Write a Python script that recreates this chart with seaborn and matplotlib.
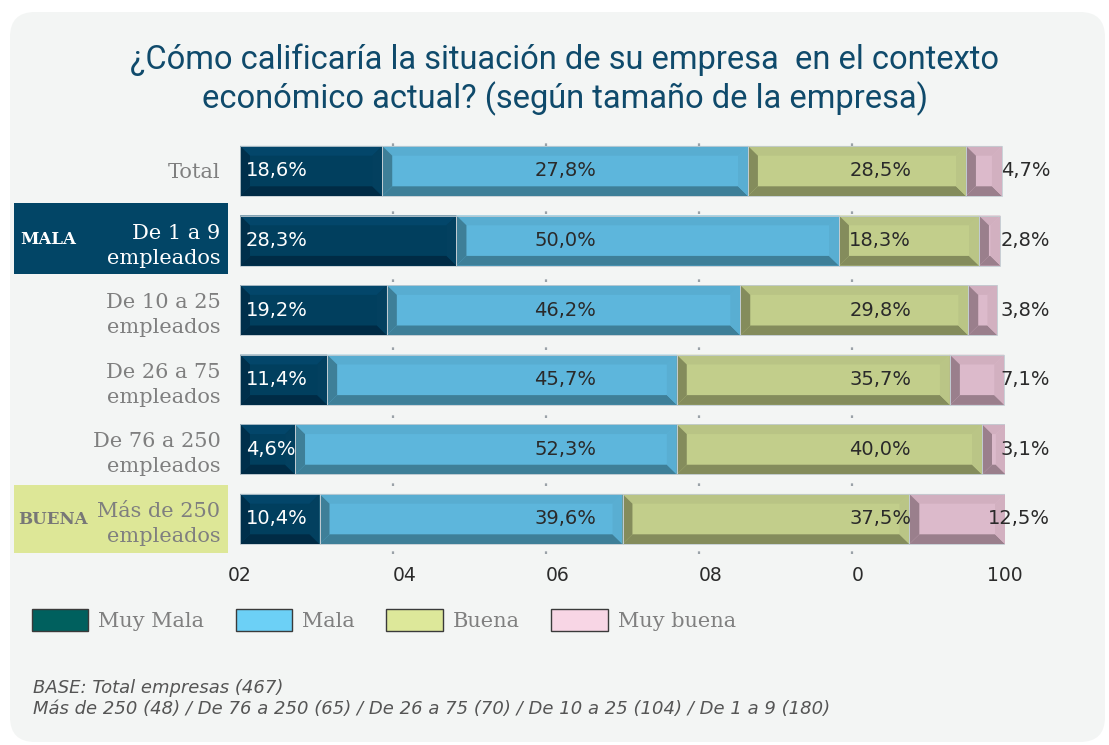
import pandas as pd
import seaborn as sns
import matplotlib.pyplot as plt
from matplotlib.patches import Polygon, Rectangle, FancyBboxPatch, Patch

# datos (longitud de cada tramo, en %)
categorias = ['Total', 'De 1 a 9\nempleados', 'De 10 a 25\nempleados', 'De 26 a 75\nempleados',
              'De 76 a 250\nempleados', 'Más de 250\nempleados']
series = ['Muy Mala', 'Mala', 'Buena', 'Muy buena']
muy_mala = [18.6, 28.3, 19.2, 11.4, 7.2, 10.4]
mala = [47.8, 50.0, 46.2, 45.7, 49.9, 39.6]
buena = [28.5, 18.3, 29.8, 35.7, 39.9, 37.5]
muy_buena = [4.7, 2.8, 3.8, 7.1, 3.1, 12.5]

# etiquetas tal como aparecen en el original
etq_muy_mala = ['18,6%', '28,3%', '19,2%', '11,4%', '4,6%', '10,4%']
etq_mala = ['27,8%', '50,0%', '46,2%', '45,7%', '52,3%', '39,6%']
etq_buena = ['28,5%', '18,3%', '29,8%', '35,7%', '40,0%', '37,5%']
etq_muy_buena = ['4,7%', '2,8%', '3,8%', '7,1%', '3,1%', '12,5%']

ticks = [0, 20, 40, 60, 80, 100]
tick_labels = ['02', '04', '06', '08', '0', '100']

W, H = 1109, 745

df = pd.DataFrame({'categoria': categorias, 'Muy Mala': muy_mala, 'Mala': mala,
                   'Buena': buena, 'Muy buena': muy_buena})
cum = df[series].cumsum(axis=1)
start = cum.shift(1, axis=1).fillna(0)

# colores: cara, arriba, abajo, izquierda, derecha
bisel = {
    'Muy Mala': ['#013f5e', '#03466a', '#002b45', '#002f4b', '#03405f'],
    'Mala': ['#5db6dc', '#58add1', '#3e7f98', '#3e7f98', '#59aed2'],
    'Buena': ['#c2ce8b', '#b9c485', '#848c5c', '#848c5c', '#bac586'],
    'Muy buena': ['#dcbacb', '#d1afbf', '#9a7f8c', '#9a7f8c', '#d2b0c0'],
}
leyenda_col = {'Muy Mala': '#00605e', 'Mala': '#6cd0f6', 'Buena': '#dde89a', 'Muy buena': '#f8d6e5'}

sns.set_style('white')
plt.rcParams['font.family'] = ['DejaVu Sans']

fig = plt.figure(figsize=(W / 100, H / 100), dpi=100, facecolor='white')
fig.patches.append(FancyBboxPatch((0.10, 0.03), 10.95, 7.30, boxstyle='round,pad=0,rounding_size=0.25',
                                  transform=fig.dpi_scale_trans, facecolor='#f3f5f4', edgecolor='none',
                                  zorder=-10))
# recuadros resaltados
fig.patches.append(Rectangle((14 / W, 1 - 274 / H), 214 / W, 71 / H, transform=fig.transFigure,
                             facecolor='#024566', edgecolor='none', zorder=-5))
fig.patches.append(Rectangle((14 / W, 1 - 553 / H), 214 / W, 68 / H, transform=fig.transFigure,
                             facecolor='#dde797', edgecolor='none', zorder=-5))

ax = fig.add_axes([240 / W, 1 - 553.8 / H, 765 / W, 417.6 / H])
ax.patch.set_alpha(0)

# barras apiladas: de la acumulada mayor a la menor
for s in series[::-1]:
    sns.barplot(x=cum[s], y=df['categoria'], orient='h', color=bisel[s][0], width=0.72,
                saturation=1, edgecolor='none', linewidth=0, ax=ax, zorder=2)

dx, dy = 1.3, 0.14
containers = ax.containers[::-1]
for k, s in enumerate(series):
    cara, arriba, abajo, izq, der = bisel[s]
    for i, p in enumerate(containers[k]):
        x0, x1 = start[s][i], cum[s][i]
        yt = p.get_y()
        yb = yt + p.get_height()
        polys = [
            ([(x0, yt), (x1, yt), (x1 - dx, yt + dy), (x0 + dx, yt + dy)], arriba),
            ([(x0, yb), (x1, yb), (x1 - dx, yb - dy), (x0 + dx, yb - dy)], abajo),
            ([(x0, yt), (x0 + dx, yt + dy), (x0 + dx, yb - dy), (x0, yb)], izq),
            ([(x1, yt), (x1 - dx, yt + dy), (x1 - dx, yb - dy), (x1, yb)], der),
        ]
        for pts, c in polys:
            ax.add_patch(Polygon(pts, closed=True, facecolor=c, edgecolor='none', zorder=3))
        ax.add_patch(Rectangle((x0, yt), x1 - x0, yb - yt, facecolor='none',
                               edgecolor='#c3cdd3', linewidth=0.6, zorder=4))

# etiquetas de datos
for i in range(len(categorias)):
    ax.text(0.8, i, etq_muy_mala[i], ha='left', va='center', color='white', fontsize=14, zorder=5)
    ax.text(42.5, i, etq_mala[i], ha='center', va='center', color='#2a2a2a', fontsize=14, zorder=5)
    ax.text(83.7, i, etq_buena[i], ha='center', va='center', color='#2a2a2a', fontsize=14, zorder=5)
    ax.text(105.9, i, etq_muy_buena[i], ha='right', va='center', color='#2a2a2a', fontsize=14,
            zorder=5, clip_on=False)

# líneas de guía punteadas
for t in ticks[1:-1]:
    ax.axvline(t, color='#9aa2a8', linestyle=(0, (1.2, 9)), linewidth=1.6, zorder=1)

ax.set_xlim(0, 100)
ax.set_ylim(5.5, -0.5)
ax.set_xticks(ticks)
ax.set_xticklabels(tick_labels, fontsize=13.5, color='#2b2b2b')
for lab, t in zip(ax.get_xticklabels(), ticks):
    lab.set_ha('center' if t in (0, 100) else 'left')
ax.tick_params(axis='x', length=0, pad=9)
ax.set_yticks(range(len(categorias)))
ax.set_yticklabels(categorias, fontsize=15, color='#7f7f7f', family='DejaVu Serif', linespacing=1.4)
ax.tick_params(axis='y', length=0, pad=14)
ax.get_yticklabels()[1].set_color('white')
ax.set_xlabel('')
ax.set_ylabel('')
for sp in ax.spines.values():
    sp.set_visible(False)

fig.text(20 / W, 1 - 240 / H, 'MALA', ha='left', va='center', color='white', fontsize=12,
         family='DejaVu Serif', weight='bold')
fig.text(18 / W, 1 - 520 / H, 'BUENA', ha='left', va='center', color='#777777', fontsize=12,
         family='DejaVu Serif', weight='bold')

fig.text(565 / W, 1 - 80 / H, '¿Cómo calificaría la situación de su empresa  en el contexto\n'
         'económico actual? (según tamaño de la empresa)', ha='center', va='center',
         color='#0f4a6b', fontsize=23.5, family='Roboto', linespacing=1.2)

handles = [Patch(facecolor=leyenda_col[s], edgecolor='#3a3a3a', linewidth=1) for s in series]
fig.legend(handles, series, loc='center left', bbox_to_anchor=(13 / W, 1 - 620 / H), ncol=4,
           frameon=False, handlelength=2.7, handleheight=1.2, handletextpad=0.5, columnspacing=1.5,
           prop={'family': 'DejaVu Serif', 'size': 15}, labelcolor='#808080')

fig.text(33 / W, 1 - 688 / H, 'BASE: Total empresas (467)', ha='left', va='center',
         color='#555555', fontsize=13, style='italic')
fig.text(33 / W, 1 - 709 / H, 'Más de 250 (48) / De 76 a 250 (65) / De 26 a 75 (70) / '
         'De 10 a 25 (104) / De 1 a 9 (180)', ha='left', va='center',
         color='#555555', fontsize=13, style='italic')

fig.savefig('out.png', dpi=100, facecolor='white')
